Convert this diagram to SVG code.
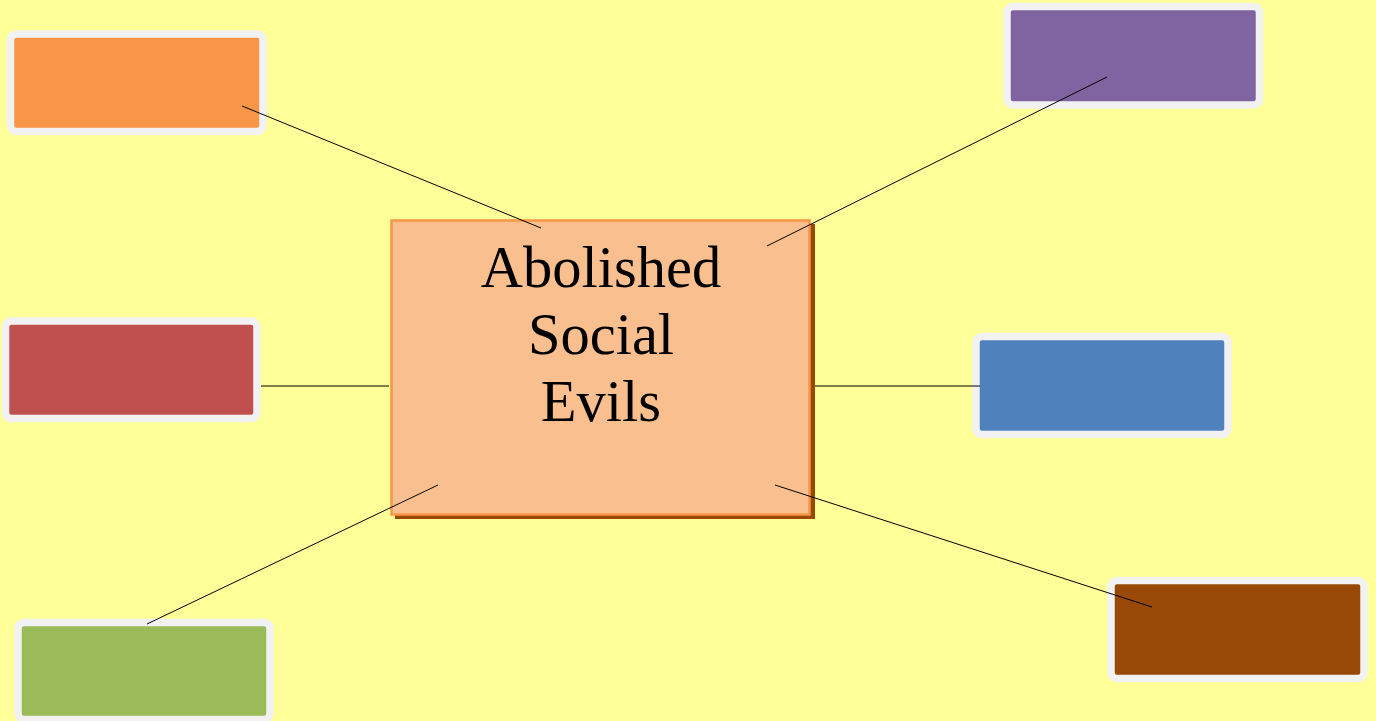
<svg xmlns="http://www.w3.org/2000/svg" width="1376" height="721" viewBox="0 0 1376 721">
<style>
.box{stroke:#F2F2F2;stroke-width:7.5}
.ln{stroke:#000;stroke-width:1;fill:none}
.t{font-family:"Liberation Serif",serif;font-size:58.5px;fill:#000;text-anchor:middle}
</style>
<rect width="1376" height="721" fill="#FFFF99"/>
<g id="center">
<rect x="395" y="224" width="420" height="295" fill="#984807"/>
<rect x="391.5" y="220.5" width="418" height="294" fill="#F9BF8F" stroke="#F79646" stroke-width="2.5"/>
<text class="t" x="601" y="287">Abolished</text>
<text class="t" x="601" y="354">Social</text>
<text class="t" x="601" y="421">Evils</text>
</g>
<g id="orange"><rect class="box" x="10.5" y="34" width="252.5" height="97.5" rx="6" fill="#F79646"/></g>
<g id="purple"><rect class="box" x="1007" y="6.5" width="252.5" height="98.5" rx="6" fill="#8064A2"/></g>
<g id="red"><rect class="box" x="5.5" y="321" width="251.5" height="97.5" rx="6" fill="#C0504D"/></g>
<g id="blue"><rect class="box" x="976" y="336.5" width="252" height="98" rx="6" fill="#4F81BD"/></g>
<g id="green"><rect class="box" x="18" y="622.5" width="252" height="97" rx="6" fill="#9BBB59"/></g>
<g id="brown"><rect class="box" x="1111" y="580.5" width="253" height="98" rx="6" fill="#984807"/></g>
<g id="connectors">
<line class="ln" x1="242" y1="106" x2="541" y2="228"/>
<line class="ln" x1="1107" y1="77" x2="767" y2="246"/>
<line class="ln" x1="261" y1="386" x2="389" y2="386"/>
<line class="ln" x1="815" y1="386" x2="980" y2="386"/>
<line class="ln" x1="147" y1="624" x2="438" y2="485"/>
<line class="ln" x1="775" y1="485" x2="1152" y2="607"/>
</g>
</svg>
